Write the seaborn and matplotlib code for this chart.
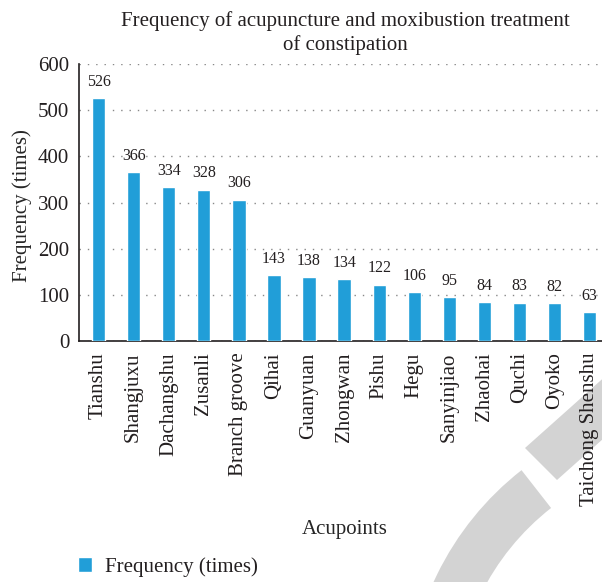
import pandas as pd
import matplotlib
matplotlib.use('Agg')
import matplotlib.pyplot as plt
import seaborn as sns
from matplotlib.patches import Patch, Wedge, Polygon

# ── Data ──────────────────────────────────────────────────────────────────────
acupoints = ['Tianshu', 'Shangjuxu', 'Dachangshu', 'Zusanli', 'Branch groove',
             'Qihai', 'Guanyuan', 'Zhongwan', 'Pishu', 'Hegu', 'Sanyinjiao',
             'Zhaohai', 'Quchi', 'Oyoko', 'Taichong Shenshu']
frequency = [526, 366, 334, 328, 306, 143, 138, 134, 122, 106, 95, 84, 83, 82, 63]
y_ticks = [0, 100, 200, 300, 400, 500, 600]

df = pd.DataFrame({'Acupoints': acupoints, 'Frequency': frequency})

BAR = '#219ed8'
INK = '#231f20'
FS = 15
sns.set_theme(style='white')
plt.rcParams['font.family'] = ['Liberation Serif', 'DejaVu Serif']
plt.rcParams['text.color'] = INK

fig = plt.figure(figsize=(6.02, 5.82), dpi=100)

# grey watermark in the bottom right corner (pixel positions -> inches)
H = 582
fig.add_artist(Wedge((7.05, (H - 705) / 100), 2.98, 128, 180, width=0.48,
                     facecolor='#d3d3d3', edgecolor='none',
                     transform=fig.dpi_scale_trans, zorder=0))
pts = [(525, 448), (557, 480), (650, 397), (618, 365)]
fig.add_artist(Polygon([(x / 100, (H - y) / 100) for x, y in pts],
                       facecolor='#d3d3d3', edgecolor='none',
                       transform=fig.dpi_scale_trans, zorder=0))

ax = fig.add_axes([0.131, 0.414, 0.869, 0.476])
ax.patch.set_alpha(0)

sns.barplot(data=df, x='Acupoints', y='Frequency', color=BAR, width=0.38,
            saturation=1, ax=ax, zorder=3)
ax.bar_label(ax.containers[0], padding=6, fontsize=11.5, color=INK)

ax.set_xlim(-0.56, len(acupoints) - 0.65)
ax.set_ylim(0, 600)
ax.set_yticks(y_ticks)
ax.tick_params(axis='both', length=0, labelsize=FS, colors=INK)
ax.tick_params(axis='y', pad=7)
ax.tick_params(axis='x', rotation=90, pad=8)
ax.yaxis.grid(True, linestyle=(0, (1, 5)), color='#888888', linewidth=1)
ax.set_axisbelow(True)

for s in ['top', 'right']:
    ax.spines[s].set_visible(False)
for s in ['left', 'bottom']:
    ax.spines[s].set_color(INK)
    ax.spines[s].set_linewidth(1.2)

ax.set_xlabel('Acupoints', fontsize=FS)
ax.xaxis.set_label_coords(0.509, -0.645)
ax.set_ylabel('Frequency (times)', fontsize=FS)
ax.yaxis.set_label_coords(-0.09, 0.49)
ax.set_title('Frequency of acupuncture and moxibustion treatment\nof constipation',
             fontsize=FS, pad=10, x=0.51, linespacing=1.3)

fig.legend(handles=[Patch(facecolor=BAR, label='Frequency (times)')],
           loc='center left', bbox_to_anchor=(0.098, 0.026), frameon=False,
           fontsize=FS, handlelength=0.7, handleheight=0.7, handletextpad=0.6)

fig.savefig('out.png', dpi=100)
